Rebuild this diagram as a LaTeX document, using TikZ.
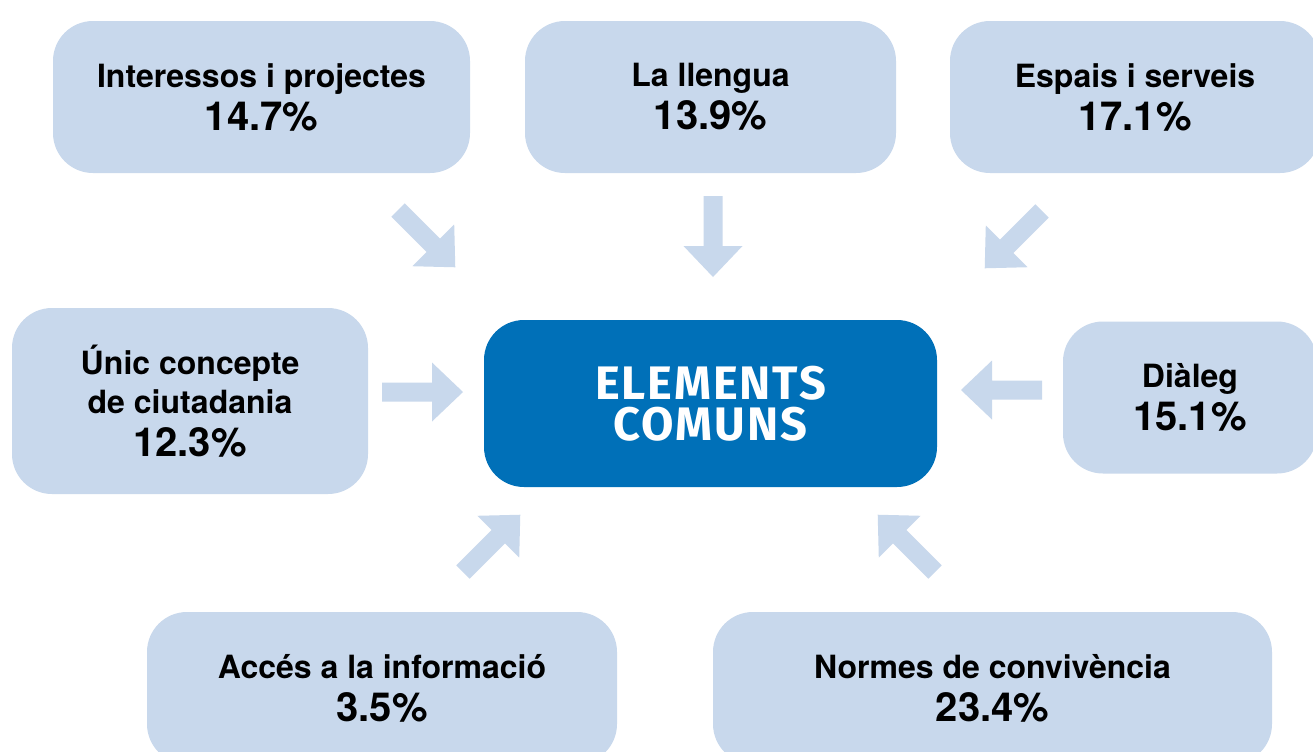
\documentclass[tikz,border=0pt]{standalone}
\usepackage{fontspec}
\setmainfont{TeX Gyre Heros}
\newfontfamily\dinfont[LetterSpace=4]{Fira Sans}
\definecolor{lightbox}{HTML}{C8D8EC}
\definecolor{darkbox}{HTML}{0070B8}
\newcommand{\pct}[1]{{\fontsize{20}{20}\selectfont #1}}
\begin{document}
\begin{tikzpicture}[x=0.5pt,y=-0.5pt,
  lbox/.style={fill=lightbox,rounded corners=20pt,align=center,inner sep=0pt,text=black,
    font=\bfseries\fontsize{16}{19.5}\selectfont},
  cbox/.style={fill=darkbox,rounded corners=20pt,align=center,inner sep=0pt,text=white,
    font=\dinfont\bfseries\fontsize{23.5}{20.5}\selectfont},
  barrow/.pic={\fill[lightbox] (0,-9.5) -- (50,-9.5) -- (50,-29.5) -- (81,0) -- (50,29.5) -- (50,9.5) -- (0,9.5) -- cycle;}]
\useasboundingbox (0,0) rectangle (1313,751);
\clip (0,0) rectangle (1313,751);
\fill[white] (0,0) rectangle (1313,751);
\node[lbox,minimum width=208.5pt,minimum height=76pt] (n1) at (261.5,97) {Interessos i projectes\\[2pt]\pct{14.7\%}};
\node[lbox,minimum width=185.5pt,minimum height=76pt] (n2) at (710.5,97) {La llengua\\[2pt]\pct{13.9\%}};
\node[lbox,minimum width=185pt,minimum height=76pt] (n3) at (1135,97) {Espais i serveis\\[2pt]\pct{17.1\%}};
\node[lbox,minimum width=178pt,minimum height=93pt] (n4) at (190,401) {Únic concepte\\de ciutadania\\[2pt]\pct{12.3\%}};
\node[cbox,minimum width=226.5pt,minimum height=83.5pt] (c) at (710.5,403.5) {ELEMENTS\\COMUNS};
\node[lbox,minimum width=127pt,minimum height=76pt] (n6) at (1190,397.5) {Diàleg\\[2pt]\pct{15.1\%}};
\node[lbox,minimum width=235pt,minimum height=76pt] (n7) at (382,688) {Accés a la informació\\[2pt]\pct{3.5\%}};
\node[lbox,minimum width=279.5pt,minimum height=76pt] (n8) at (992.5,688) {Normes de convivència\\[2pt]\pct{23.4\%}};
\coordinate (t1) at (398,210);
\coordinate (t2) at (713,196);
\coordinate (t3) at (1042,211);
\coordinate (t4) at (382,392);
\coordinate (t5) at (1042,390);
\coordinate (t6) at (463,572);
\coordinate (t7) at (935,572);
\pic[rotate=-45] at (t1) {barrow};
\pic[rotate=-90] at (t2) {barrow};
\pic[rotate=-135] at (t3) {barrow};
\pic[rotate=0] at (t4) {barrow};
\pic[rotate=180] at (t5) {barrow};
\pic[rotate=45] at (t6) {barrow};
\pic[rotate=135] at (t7) {barrow};
\end{tikzpicture}
\end{document}
